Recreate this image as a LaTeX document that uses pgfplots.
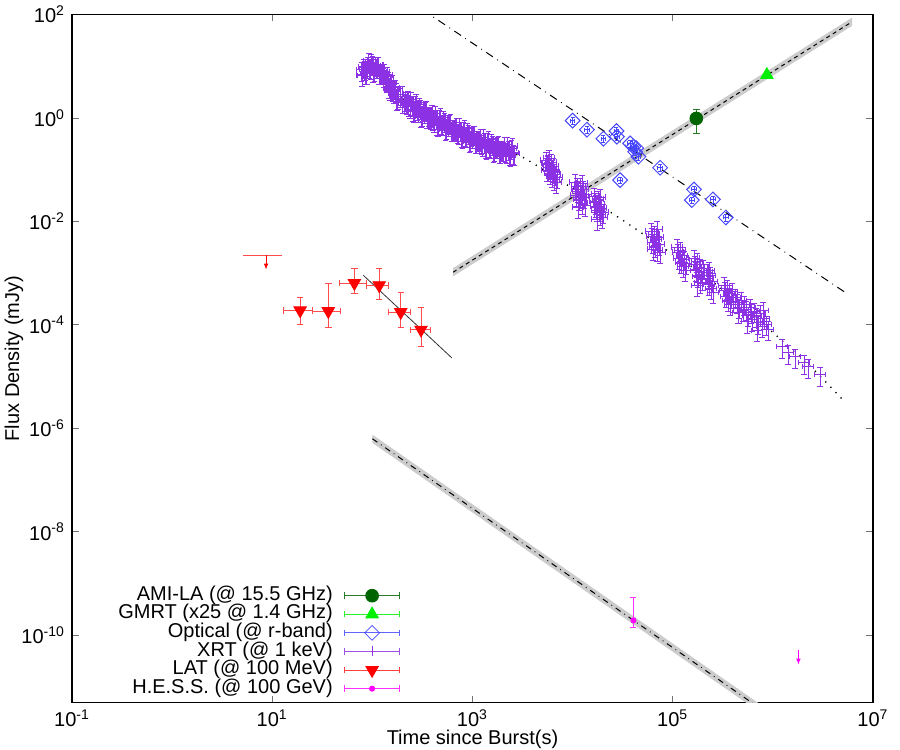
\documentclass[border=0pt]{standalone}
\usepackage{fontspec}
\setmainfont{Liberation Sans}
\usepackage{pgfplots}
\usepackage{pgfplotstable}
\pgfplotsset{compat=1.18}
\usetikzlibrary{arrows.meta,calc}

\definecolor{amicol}{RGB}{0,100,0}
\definecolor{gmrtcol}{RGB}{0,240,0}
\definecolor{optcol}{RGB}{70,70,255}
\definecolor{xrtcol}{RGB}{140,50,228}
\definecolor{latcol}{RGB}{255,0,0}
\definecolor{hesscol}{RGB}{255,0,255}
\definecolor{bandcol}{RGB}{204,204,204}

% Swift/XRT light curve at 1 keV (mJy)
\pgfplotstableread{
t f
78 8.59
79 6.82
80 6.67
82 9.86
84 8.77
86 7.28
88 7.41
90 10.7
92 12.5
94 9.55
96 9.42
98 11.9
100 11.1
102 8.02
105 8.55
107 10.4
110 9.64
112 10.5
115 10.6
117 7.48
120 7.43
123 7.89
126 7.29
129 6.56
132 7.78
135 5.73
138 5.18
141 6.81
144 5.38
147 3.97
150 3.61
153 4.63
157 4.84
160 3.48
164 3.21
168 3.81
172 3.35
176 2.33
180 2.39
184 2.89
189 2.65
193 2.87
198 2.89
202 2.02
207 2.00
212 2.18
217 2.07
222 1.92
227 2.34
232 1.77
238 1.63
243 2.24
249 1.86
255 1.43
261 1.36
267 1.82
273 1.99
280 1.47
286 1.39
293 1.70
300 1.54
307 1.09
314 1.14
321 1.40
329 1.31
337 1.43
345 1.46
353 1.03
361 1.03
369 1.13
378 1.08
387 1.00
396 1.23
405 0.935
415 0.873
425 1.21
435 1.00
445 0.776
455 0.741
466 0.998
477 1.09
488 0.811
500 0.774
511 0.951
523 0.867
535 0.614
548 0.643
561 0.791
574 0.740
587 0.811
601 0.832
615 0.589
630 0.590
645 0.647
660 0.618
675 0.577
691 0.711
707 0.540
724 0.505
741 0.697
758 0.581
776 0.451
794 0.432
813 0.582
832 0.640
851 0.474
871 0.454
891 0.558
912 0.511
933 0.361
955 0.379
977 0.468
1000 0.438
1025 0.480
1050 0.492
1075 0.349
1100 0.350
1125 0.385
1150 0.369
1175 0.346
1200 0.428
1230 0.325
1260 0.304
1290 0.421
1320 0.351
1350 0.274
1380 0.262
1415 0.355
1450 0.391
1485 0.290
1520 0.279
1555 0.344
1590 0.316
1625 0.225
1660 0.237
1700 0.292
1740 0.274
1780 0.301
1820 0.310
1865 0.221
1910 0.222
1955 0.256
2000 0.236
2045 0.243
2090 0.301
2140 0.230
2190 0.217
2240 0.301
2290 0.252
2345 0.197
2400 0.190
2455 0.258
2510 0.285
2570 0.213
2630 0.205
5433 0.153
5689 0.128
5559 0.0982
5821 0.112
5957 0.0859
6095 0.140
6237 0.0752
6383 0.0982
6531 0.0658
6683 0.0822
6839 0.0575
5821 0.168
6383 0.117
6998 0.0719
5600 0.132
6150 0.108
6600 0.0900
10590 0.0575
11090 0.0481
11350 0.0385
10840 0.0322
11610 0.0269
11880 0.0481
12160 0.0352
12450 0.0225
12740 0.0421
13030 0.0294
13340 0.0206
13650 0.0337
11350 0.0188
12450 0.0550
11000 0.0420
12000 0.0300
16390 0.0308
16770 0.0246
17160 0.0197
17560 0.0165
17970 0.0269
18390 0.0215
18820 0.0138
19260 0.0180
19710 0.0121
20170 0.0151
17560 0.0110
18820 0.0294
17000 0.0230
18600 0.0170
60870 0.00646
62290 0.00517
63740 0.00395
65220 0.00565
66740 0.00331
68300 0.00452
69890 0.00277
71520 0.00494
73180 0.00362
74890 0.00253
63740 0.00289
69890 0.00706
110400 0.00316
113000 0.00253
115600 0.00194
118400 0.00277
121100 0.00162
123900 0.00221
126900 0.00135
129800 0.00185
132800 0.00113
135900 0.00155
163700 0.00194
167500 0.00148
171400 0.00113
175400 0.00169
179500 0.000867
183700 0.00129
188000 0.000664
192400 0.00104
196900 0.000758
201500 0.00124
175400 0.000581
220400 0.00104
225500 0.000793
230700 0.000607
236100 0.000906
241600 0.000507
247200 0.000694
252900 0.000425
230700 0.00113
326100 0.000581
333700 0.000464
341400 0.000355
349300 0.000507
357400 0.000297
365700 0.000406
374200 0.000248
382900 0.000340
391800 0.000444
400900 0.000284
419800 0.000340
439600 0.000272
460300 0.000217
481900 0.000297
504700 0.000190
449800 0.000174
516500 0.000248
540900 0.000199
566400 0.000152
593100 0.000217
621000 0.000127
553500 0.000116
606900 0.000174
650200 0.000182
680800 0.000146
712900 0.000111
746500 0.000166
781700 9.31e-5
818500 0.000133
857100 0.000102
897500 8.15e-5
696600 7.79e-5
799900 0.000190
1239000 3.81e-5
1422000 2.92e-5
1671000 2.44e-5
2056000 1.87e-5
2254000 1.56e-5
2972000 1.09e-5
}\xrtdata

% smoothly broken power-law fit to the XRT data
\pgfplotstableread{
t f
80.2 7.69
92.7 10.05
104.0 10.18
120.8 8.26
138.7 5.88
153.8 4.04
175.4 2.92
207.5 2.23
247.6 1.79
295.1 1.43
406.4 1.02
553.4 0.748
751.6 0.560
1021 0.419
1390 0.321
1888 0.251
2992 0.184
4385 0.120
5957 0.0822
8091 0.0562
11430 0.0373
15560 0.0258
21130 0.0176
29850 0.0114
42070 0.00728
57150 0.00483
87300 0.00277
138400 0.00153
202800 0.000927
341200 0.000425
639700 0.000152
1183000 5.33e-5
2546000 1.37e-5
5270000 3.18e-6
}\xrtfit

% optical r-band photometry
\pgfplotstableread{
t f
1.00e4 0.887
1.39e4 0.593
2.03e4 0.397
2.74e4 0.560
2.77e4 0.434
3.75e4 0.323
4.05e4 0.278
4.21e4 0.222
4.54e4 0.178
4.31e4 0.262
7.48e4 0.109
2.98e4 0.0629
1.63e5 0.0415
1.55e5 0.0258
2.52e5 0.0266
3.39e5 0.0119
}\optdata

% Fermi/LAT at 100 MeV: time, flux and asymmetric errors
\pgfplotstableread{
t f tp tm fp fm
19.0 1.90e-4 6.4 6.2 1.54e-4 0.88e-4
36.3 1.84e-4 11.3 10.9 4.59e-4 0.961e-4
66.1 6.43e-4 21.8 19.3 5.77e-4 2.32e-4
117 5.81e-4 28 29.1 6.39e-4 2.75e-4
192 1.76e-4 46 47 2.43e-4 0.881e-4
306 8.04e-5 71 68 1.396e-4 4.23e-5
}\latdata

\newcommand{\legbar}[1]{\draw[#1, line width=0.4pt] (0pt,0pt) -- (27.5pt,0pt)
  (0pt,-1.6pt) -- (0pt,1.6pt) (27.5pt,-1.6pt) -- (27.5pt,1.6pt);}

\begin{document}
\begin{tikzpicture}
\begin{axis}[
  name=main,
  scale only axis, width=400.5pt, height=344pt,
  xmode=log, ymode=log,
  xmin=0.1, xmax=1e7, ymin=5e-12, ymax=100,
  xtick={1e-1,1e1,1e3,1e5,1e7},
  xticklabels={10\textsuperscript{-1},10\textsuperscript{1},10\textsuperscript{3},10\textsuperscript{5},10\textsuperscript{7}},
  ytick={1e-10,1e-8,1e-6,1e-4,1e-2,1,100},
  yticklabels={10\textsuperscript{-10},10\textsuperscript{-8},10\textsuperscript{-6},10\textsuperscript{-4},10\textsuperscript{-2},10\textsuperscript{0},10\textsuperscript{2}},
  xminorticks=false, yminorticks=false,
  tick align=inside, major tick length=3.3pt,
  tick style={black!55, line width=0.4pt},
  axis line style={line width=0.6pt},
  xlabel={Time since Burst(s)}, ylabel={Flux Density (mJy)},
  xlabel style={at={(axis description cs:0.5,-0.053)}, anchor=center},
  ylabel style={at={(axis description cs:-0.0724,0.5)}, anchor=center},
  legend plot pos=right, legend cell align=right,
  legend style={draw=none, fill=none, at={(rel axis cs:0.41,0.006)}, anchor=south east,
    inner sep=0pt, row sep=0pt,
    nodes={inner sep=0.75pt, text height=6.2pt, text depth=1.6pt},
    /tikz/every odd column/.append style={column sep=5pt}},
]
% legend entries
\addlegendimage{legend image code/.code={\legbar{amicol!85}
  \path[draw=amicol, fill=amicol] plot[mark=*, mark size=3.2pt] coordinates {(13.75pt,0pt)};}}
\addlegendentry{AMI-LA (@ 15.5 GHz)}
\addlegendimage{legend image code/.code={\legbar{gmrtcol!85}
  \path[draw=gmrtcol, fill=gmrtcol] plot[mark=triangle*, mark size=3.6pt] coordinates {(13.75pt,0pt)};}}
\addlegendentry{GMRT (x25 @ 1.4 GHz)}
\addlegendimage{legend image code/.code={\legbar{optcol!85}
  \path[draw=optcol] plot[mark=square, mark size=2.6pt, mark options={rotate=45}] coordinates {(13.75pt,0pt)};}}
\addlegendentry{Optical (@ r-band)}
\addlegendimage{legend image code/.code={\legbar{xrtcol!85}
  \path[draw=xrtcol] plot[mark=|, mark size=2.5pt] coordinates {(13.75pt,0pt)};}}
\addlegendentry{XRT (@ 1 keV)}
\addlegendimage{legend image code/.code={\legbar{latcol!75}
  \path[draw=latcol, fill=latcol] plot[mark=triangle*, mark size=3.6pt, mark options={rotate=180}] coordinates {(13.75pt,0pt)};}}
\addlegendentry{LAT (@ 100 MeV)}
\addlegendimage{legend image code/.code={\legbar{hesscol!80}
  \path[draw=hesscol, fill=hesscol] plot[mark=*, mark size=1.3pt] coordinates {(13.75pt,0pt)};}}
\addlegendentry{H.E.S.S. (@ 100 GeV)}

% power-law bands (radio and VHE)
\addplot[fill=bandcol, draw=none, forget plot] coordinates {(640,8.67e-4) (6.19e6,60.4) (6.19e6,87.0) (640,1.25e-3)};
\addplot[fill=bandcol, draw=none, forget plot] coordinates {(100,5.23e-7) (1e6,2.16e-12) (1e6,3.11e-12) (100,7.54e-7)};

% fitted models
\addplot[black, line width=0.5pt, dash pattern=on 2pt off 1.8pt, forget plot] coordinates {(640,1.04e-3) (6.19e6,72.5)};
\addplot[black, line width=0.5pt, dash pattern=on 3pt off 2.2pt on 0.4pt off 2.2pt, forget plot] coordinates {(100,6.28e-7) (1e6,2.59e-12)};
\addplot[black, line width=0.5pt, dash pattern=on 4pt off 2.6pt on 0.4pt off 2.6pt, forget plot] coordinates {(316,124) (5.27e6,4.25e-4)};
\addplot[black, line width=0.7pt, dash pattern=on 0.6pt off 3.1pt, smooth, forget plot] table[x=t,y=f]{\xrtfit};
\addplot[black!80, line width=0.4pt, forget plot] coordinates {(81.3,9.06e-4) (621,2.30e-5)};

% XRT
\addplot[xrtcol, only marks, mark=+, mark size=1.8pt, mark options={line width=0.5pt}, forget plot,
  error bars/.cd, x dir=both, x fixed relative=0.12, y dir=both, y fixed relative=0.4,
  error bar style={xrtcol, line width=0.5pt},
  error mark options={rotate=90, xrtcol, mark size=1.4pt, line width=0.45pt}]
  table[x=t,y=f]{\xrtdata};

% optical
\addplot[optcol, only marks, mark=square, mark size=2.6pt, mark options={rotate=45, line width=0.5pt}, forget plot,
  error bars/.cd, x dir=both, x fixed relative=0.05, y dir=both, y fixed relative=0.15,
  error bar style={optcol, line width=0.4pt},
  error mark options={rotate=90, optcol, mark size=1pt, line width=0.4pt}]
  table[x=t,y=f]{\optdata};

% LAT detections and upper limit
\addplot[latcol, only marks, mark=triangle*, mark size=3.6pt, mark options={rotate=180}, forget plot,
  error bars/.cd, x dir=both, x explicit, y dir=both, y explicit,
  error bar style={latcol!70, line width=0.4pt},
  error mark options={rotate=90, latcol!70, mark size=1.6pt, line width=0.4pt}]
  table[x=t, y=f, x error plus=tp, x error minus=tm, y error plus=fp, y error minus=fm]{\latdata};
\addplot[latcol!70, line width=0.4pt, forget plot] coordinates {(5.14,2.21e-3) (12.4,2.21e-3)};
\addplot[latcol, line width=0.5pt, -{Latex[length=3pt,width=2.4pt]}, forget plot] coordinates {(8.67,2.21e-3) (8.67,1.17e-3)};

% H.E.S.S.
\addplot[hesscol, only marks, mark=*, mark size=1.3pt, forget plot,
  error bars/.cd, y dir=both, y explicit,
  error bar style={hesscol!80, line width=0.4pt},
  error mark options={rotate=90, hesscol!80, mark size=1.5pt, line width=0.4pt}]
  coordinates {(4.05e4,1.93e-10) += (0,3.35e-10) -= (0,0.54e-10)};
\addplot[hesscol, line width=0.5pt, -{Latex[length=3pt,width=2.4pt]}, forget plot] coordinates {(1.80e6,5.28e-11) (1.80e6,2.70e-11)};

% radio
\addplot[amicol, only marks, mark=*, mark size=3.2pt, forget plot,
  error bars/.cd, y dir=both, y explicit,
  error bar style={amicol!85, line width=0.4pt},
  error mark options={rotate=90, amicol!85, mark size=1.6pt, line width=0.4pt}]
  coordinates {(1.72e5,0.98) += (0,0.49) -= (0,0.475)};
\addplot[gmrtcol, only marks, mark=triangle*, mark size=3.6pt, forget plot] coordinates {(8.71e5,6.8)};
\end{axis}
\pgfresetboundingbox
\path[use as bounding box] ($(main.south west)+(-36pt,-23.75pt)$) rectangle ($(main.north east)+(13.5pt,7.25pt)$);
\end{tikzpicture}
\end{document}
